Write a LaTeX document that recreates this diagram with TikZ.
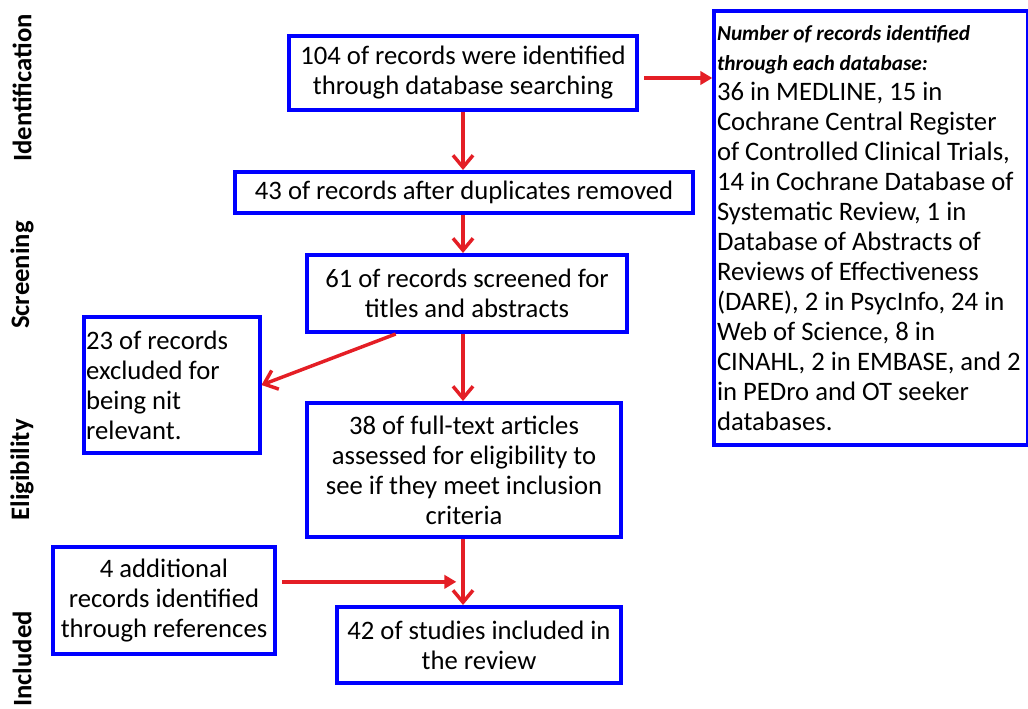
\documentclass[tikz,border=0pt]{standalone}
\usepackage{fontspec}
\setmainfont{Carlito}
\usepackage{xcolor}
\usetikzlibrary{positioning,arrows.meta,calc}
\definecolor{boxblue}{RGB}{0,0,255}
\definecolor{flowred}{RGB}{228,30,37}

\begin{document}
\begin{tikzpicture}[
  x=0.75pt,y=-0.75pt,
  font=\fontsize{20}{22.5}\selectfont,
  box/.style={draw=boxblue,line width=3pt,align=flush center,inner sep=2pt},
  note/.style={box,align=flush left},
  stage/.style={rotate=90,font=\fontsize{20}{24}\selectfont\bfseries},
  flow/.style={draw=flowred,line width=2.6pt,-{Straight Barb[length=9pt,width=15pt]}},
  feed/.style={draw=flowred,line width=2.6pt,-{Triangle[length=9pt,width=10pt]}}
]
  \useasboundingbox (0,0) rectangle (1028,709);
  % stages
  \node[stage] (sid) at (22,88)  {Identification};
  \node[stage] (ssc) at (22,275) {Screening};
  \node[stage] (sel) at (22,470) {Eligibility};
  \node[stage] (sin) at (22,659) {Included};
  % main column
  \node[box,minimum width=261pt,minimum height=55.5pt] (ident) at (463,73)
    {104 of records were identified\\through database searching};
  \node[box,minimum width=343.5pt,minimum height=30.75pt] (dupl) at (464,192.5)
    {43 of records after duplicates removed};
  \node[box,minimum width=240pt,minimum height=57.75pt] (screen) at (467,293.5)
    {61 of records screened for\\titles and abstracts};
  \node[note,text width=128pt,minimum height=102pt] (excl) at (171.5,385)
    {23 of records\\excluded for\\being nit\\relevant.};
  \node[box,minimum width=235.5pt,minimum height=100.5pt] (full) at (464,470)
    {38 of full-text articles\\assessed for eligibility to\\see if they meet inclusion\\criteria};
  \node[box,minimum width=166.5pt,minimum height=80.25pt] (addl) at (164,600.5)
    {4 additional\\records identified\\through references};
  \node[box,minimum width=213pt,minimum height=57pt] (incl) at (479,645)
    {42 of studies included in\\the review};
  % database counts
  \node[note,text width=231pt,minimum height=325.5pt] (dbs) at (871,228)
    {{\fontsize{16}{18.75}\selectfont\bfseries\itshape Number of records identified\\through each database:}\\
     36 in MEDLINE, 15 in\\Cochrane Central Register\\of Controlled Clinical Trials,\\
     14 in Cochrane Database of\\Systematic Review, 1 in\\Database of Abstracts of\\
     Reviews of Effectiveness\\(DARE), 2 in PsycInfo, 24 in\\Web of Science, 8 in\\
     CINAHL, 2 in EMBASE, and 2\\in PEDro and OT seeker\\databases.};
  % connectors
  \draw[flow] (ident.south) -- (ident.south |- dupl.north);
  \draw[flow] (dupl.south -| ident.south) -- (ident.south |- screen.north);
  \draw[flow] (screen.south -| ident.south) -- (ident.south |- full.north);
  \draw[flow] ($(screen.south west)!0.28!(screen.south east)$) -- (excl.east);
  \draw[flow] (full.south -| ident.south) -- (ident.south |- incl.north);
  \draw[feed] ([xshift=4pt,yshift=14pt]addl.east) -- ([yshift=14pt]addl.east -| ident.south)
    [shorten >=5pt];
  \draw[feed] ([xshift=4pt,yshift=-3.75pt]ident.east) -- ([yshift=-3.75pt]ident.east -| dbs.west);
\end{tikzpicture}
\end{document}
